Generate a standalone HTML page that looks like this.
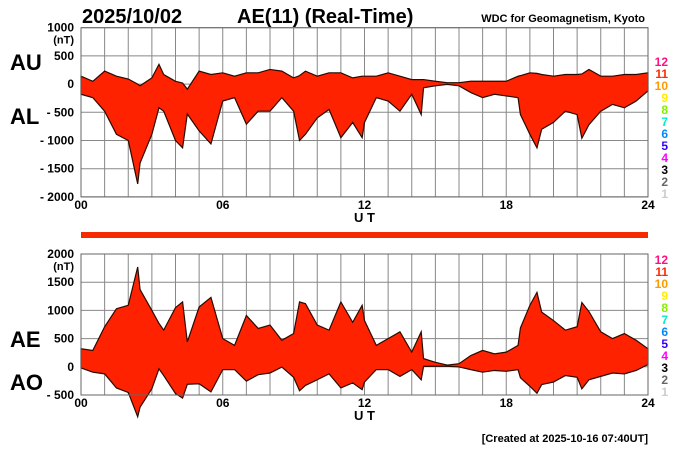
<!DOCTYPE html>
<html><head><meta charset="utf-8"><style>
body{margin:0;background:#fff;}
svg{display:block;font-family:"Liberation Sans",sans-serif;font-weight:bold;}
</style></head><body>
<svg id="chart" width="700" height="450" viewBox="0 0 700 450">
<text x="82" y="23" font-size="20">2025/10/02</text>
<text x="237" y="23" font-size="20">AE(11) (Real-Time)</text>
<text x="645" y="22" font-size="11" text-anchor="end">WDC for Geomagnetism, Kyoto</text>
<text x="10" y="70" font-size="22">AU</text>
<text x="10" y="124" font-size="22">AL</text>
<text x="10" y="347" font-size="22">AE</text>
<text x="10" y="390" font-size="22">AO</text>
<rect x="81" y="232" width="567" height="6" fill="#f52a00"/>
<text x="648" y="442" font-size="11" text-anchor="end">[Created at 2025-10-16 07:40UT]</text>
<g id="g1"></g><g id="g2"></g><g id="legend"></g>
</svg>
<script>
const times=[0,0.5,1,1.5,2,2.4,2.5,3,3.3,3.5,4,4.3,4.5,5,5.5,6,6.5,7,7.5,8,8.5,9,9.25,9.5,10,10.5,11,11.5,11.9,12,12.5,13,13.5,14,14.4,14.5,15,15.5,16,16.5,17,17.5,18,18.5,18.6,19,19.3,19.5,20,20.5,21,21.2,21.5,22,22.5,23,23.5,24];
const auValues=[140,50,230,140,90,0,-30,110,350,170,50,20,-90,230,170,200,140,200,200,260,230,110,150,230,140,200,200,110,140,140,140,200,140,80,80,80,50,25,25,50,50,50,50,140,150,200,190,170,140,170,170,180,260,140,140,170,170,200];
const alValues=[-180,-240,-480,-890,-1000,-1770,-1400,-890,-420,-480,-1000,-1130,-530,-830,-1060,-300,-240,-710,-480,-480,-240,-480,-1000,-890,-600,-450,-950,-680,-950,-680,-240,-300,-480,-180,-540,-65,-30,-5,-30,-150,-240,-180,-210,-240,-540,-890,-1130,-800,-680,-480,-540,-960,-720,-480,-360,-420,-300,-120];
const ticksTop=[1000,500,0,-500,-1000,-1500,-2000];
const ticksBot=[2000,1500,1000,500,0,-500];
const xTickLabels=["00","06","12","18","24"];
const legendLabels=["12","11","10","9","8","7","6","5","4","3","2","1"];
const legendColors=["#ff1080","#ff2a00","#ff9900","#ffee00","#88ee00","#00eecc","#0088ff","#3300ff","#ff00ff","#000000","#666666","#cccccc"];
const aeValues=auValues.map((u,i)=>u-alValues[i]);
const aoValues=auValues.map((u,i)=>(u+alValues[i])/2);
const NS="http://www.w3.org/2000/svg";
const X0=81,X1=648;
const x=h=>X0+(X1-X0)*h/24;
function mk(tag,attrs,parent){const e=document.createElementNS(NS,tag);for(const k in attrs)e.setAttribute(k,attrs[k]);parent.appendChild(e);return e;}
function panel(g,yTop,vMax,vMin,ticks,upper,lower,pfx,ub){
  const yB=yTop+(vMax-vMin)/500*28.2;
  const y=v=>yTop+(vMax-v)/500*28.2;
  for(let h=0;h<=24;h++){const l=mk('line',{x1:x(h),x2:x(h),y1:yTop,y2:yB,stroke:'#888','stroke-width':1},g);
    
    }
  ticks.forEach(t=>{const l=mk('line',{x1:X0,x2:X1,y1:y(t),y2:y(t),stroke:'#888','stroke-width':1},g);
    
    
    const tx=mk('text',{x:74,y:y(t)+4,'font-size':12,'text-anchor':'end'},g);
    tx.textContent=t<0?'- '+(-t):String(t);
    
    });
  const nt=mk('text',{x:74,y:y(ticks[0])+16,'font-size':11,'text-anchor':'end'},g);nt.textContent='(nT)';
  
  
  let d='';times.forEach((t,i)=>d+=(i?'L':'M')+x(t)+','+y(upper[i]));
  for(let i=times.length-1;i>=0;i--)d+='L'+x(times[i])+','+y(lower[i]);
  const p=mk('path',{d:d+'Z',fill:'#ff2200',stroke:'#2a0a00','stroke-width':1.2},g);
  
  
  mk('rect',{x:X0,y:yTop,width:X1-X0,height:yB-yTop,fill:'none',stroke:'#666'},g);
  xTickLabels.forEach((s,i)=>{const tx=mk('text',{x:x(i*6),y:yB+12,'font-size':12,'text-anchor':'middle'},g);tx.textContent=s;
    
    });
  const ut=mk('text',{x:x(12),y:yB+25,'font-size':13,'text-anchor':'middle'},g);ut.textContent='U T';
  
  
  legendLabels.forEach((s,i)=>{const tx=mk('text',{x:668,y:ub+i*12,'font-size':12,'text-anchor':'end',fill:legendColors[i]},g);tx.textContent=s;
    
    });
}
panel(document.getElementById('g1'),27.7,1000,-2000,ticksTop,auValues,alValues,'au-al',66);
panel(document.getElementById('g2'),254,2000,-500,ticksBot,aeValues,aoValues,'ae-ao',264);
</script>
</body></html>
